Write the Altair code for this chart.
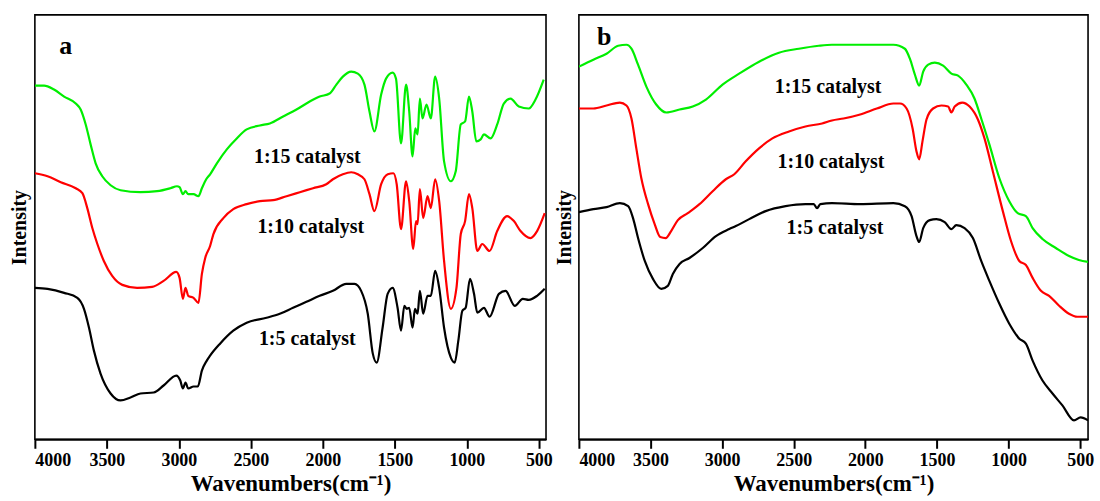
import altair as alt
import pandas as pd

# ---------------- Panel a ----------------
a_black_w = [4000,3912,3797,3705,3659,3624,3590,3544,3474,3405,3336,3267,3175,3106,3018,2990,2972,2954,2935,2898,
             2868,2840,2806,2783,2714,2622,2529,2391,2299,2207,2114,2022,1930,1837,1780,1734,1688,1653,1626,1585,
             1550,1515,1481,1457,1434,1418,1400,1377,1360,1342,1326,1303,1273,1250,1220,1192,1158,1111,1084,1059,
             1031,1008,978,950,927,881,842,777,731,667,611,570,512,459]
a_black_i = [152,151,147,142,131,112,89,66,46,39,42,46,47,54,64,59,51,57,51,53,
             53,69,79,84,96,109,117,122,126,132,138,144,149,156,156,149,126,86,77,112,
             146,152,132,109,134,131,132,112,131,126,149,126,144,144,169,152,112,82,77,99,
             129,132,161,146,127,132,123,146,149,134,141,140,144,151]

a_red_w = [4000,3912,3820,3716,3670,3636,3601,3566,3521,3463,3393,3290,3186,3106,3018,2995,2972,2954,2935,2898,
           2864,2840,2817,2783,2760,2691,2622,2529,2437,2345,2252,2160,2068,1976,1930,1861,1803,1757,1711,1676,
           1642,1595,1549,1510,1487,1457,1422,1400,1372,1353,1342,1326,1303,1273,1250,1220,1192,1158,1111,1072,
           1042,1012,985,962,927,893,842,789,720,673,627,558,512,459]
a_red_i = [267,264,258,252,247,232,212,196,179,164,155,152,153,159,168,162,141,152,144,142,
           137,166,182,194,206,222,231,236,239,240,244,248,252,256,261,266,268,266,261,246,
           229,256,266,267,256,211,259,239,191,219,216,251,222,244,232,261,239,179,131,152,
           206,219,246,232,189,196,189,209,224,219,209,202,209,227]

a_green_w = [4000,3936,3867,3797,3716,3682,3647,3613,3578,3532,3474,3405,3267,3151,3059,3013,2995,2972,2954,2935,
             2898,2864,2840,2810,2783,2736,2667,2598,2529,2437,2368,2276,2183,2091,2022,1953,1906,1861,1803,1757,
             1711,1676,1642,1595,1561,1515,1492,1457,1422,1400,1377,1358,1342,1326,1308,1280,1250,1220,1192,1158,
             1111,1077,1042,1012,985,962,934,904,881,835,789,743,696,639,570,523,466]
a_green_i = [355,355,351,344,337,331,316,296,277,264,255,250,248,249,252,254,253,246,249,246,
             246,244,252,261,266,277,291,302,311,315,317,324,331,339,344,347,356,364,369,367,
             356,329,309,346,362,368,362,297,356,329,284,312,306,342,322,336,322,364,342,279,
             259,269,316,319,344,329,299,301,306,302,316,337,342,334,332,341,361]

# ---------------- Panel b ----------------
b_black_w = [4000,3899,3807,3714,3656,3622,3587,3540,3483,3425,3379,3344,3297,3228,3135,3043,2950,2904,2811,2696,
             2557,2418,2360,2337,2314,2233,2036,1804,1724,1677,1643,1624,1596,1550,1504,1446,1399,1365,1307,1249,
             1191,1134,1064,995,925,879,832,763,693,624,543,497,445]
b_black_i = [228,231,233,237,234,222,202,179,161,151,154,166,176,182,192,204,211,214,221,229,
             234,236,236,232,236,237,236,237,234,224,204,198,212,220,221,218,211,215,212,202,
             179,159,136,116,101,96,79,59,46,34,19,22,19]

b_red_w = [4000,3899,3807,3714,3668,3633,3599,3564,3517,3471,3432,3394,3356,3309,3240,3158,3066,2974,2915,2835,
           2742,2649,2533,2418,2302,2233,2152,2036,1920,1804,1758,1712,1670,1643,1624,1601,1573,1527,1469,1422,
           1399,1376,1323,1272,1214,1168,1110,1040,983,925,879,832,774,717,647,578,520,445]
b_red_i = [332,332,335,338,335,322,292,262,236,216,203,202,209,220,227,236,249,261,266,279,
           292,302,309,314,317,320,322,326,332,337,337,332,312,289,281,299,321,332,335,334,
           328,334,338,334,321,302,269,229,199,179,175,162,149,144,134,126,123,123]

b_green_w = [4000,3899,3807,3726,3668,3633,3587,3529,3460,3390,3297,3205,3113,2997,2881,2742,2603,2464,2325,2233,
             2036,1804,1724,1689,1654,1624,1596,1561,1515,1457,1399,1353,1295,1238,1191,1134,1064,995,936,879,
             832,763,670,578,509,445]
b_green_i = [374,381,387,395,396,392,376,354,336,328,331,334,341,356,367,379,388,392,395,396,
             396,396,392,382,366,355,369,376,378,375,367,365,356,342,322,296,262,239,227,224,
             212,201,192,184,180,178]

series_names = ["1:5 catalyst", "1:10 catalyst", "1:15 catalyst"]
series_colors = ["#000000", "#ff0000", "#00ee00"]

# label annotations (wavenumber, intensity)
a_label_w = [2108, 2084, 2108]
a_label_i = [95, 207, 277]
b_label_w = [2212, 2240, 2260]
b_label_i = [206, 272, 348]
letters = ["a", "b"]
letter_w = [3786, 3823]
letter_i = [387, 396]

FONT = "Liberation Serif"


def make_df(ws, is_):
    frames = []
    for name, w, i in zip(series_names, ws, is_):
        frames.append(pd.DataFrame({"w": w, "i": i, "s": name}))
    return pd.concat(frames, ignore_index=True)


def panel(df, lab_w, lab_i, letter, lw, li, xright, width, tpad):
    x = alt.X(
        "w:Q",
        scale=alt.Scale(domain=[4000, xright], nice=False, zero=False),
        axis=alt.Axis(
            values=list(range(4000, 499, -250)),
            format="d",
            labelExpr="datum.value % 500 === 0 ? datum.label : ''",
            tickSize={"condition": {"test": "datum.value % 500 === 0", "value": 9}, "value": 5},
            tickWidth=2,
            tickColor="#000000",
            domainColor="#000000",
            domainWidth=2,
            labelFont=FONT,
            labelFontWeight="bold",
            labelFontSize=18,
            labelColor="#000000",
            labelPadding=3,
            labelOverlap=False,
            title="Wavenumbers(cm\u207b\u00b9)",
            titleFont=FONT,
            titleFontWeight="bold",
            titleFontSize=23,
            titleColor="#000000",
            titlePadding=3,
            grid=False,
        ),
    )
    y = alt.Y(
        "i:Q",
        scale=alt.Scale(domain=[0, 426], nice=False, zero=False),
        axis=alt.Axis(
            labels=False, ticks=False, domain=False, grid=False,
            title="Intensity", titleFont=FONT, titleFontWeight="bold",
            titleFontSize=20, titleColor="#000000", titlePadding=tpad,
        ),
    )
    lines = alt.Chart(df).mark_line(strokeWidth=2.2, clip=True, interpolate="monotone").encode(
        x=x, y=y,
        color=alt.Color("s:N", scale=alt.Scale(domain=series_names, range=series_colors), legend=None),
        detail="s:N",
    )
    lab_df = pd.DataFrame({"w": lab_w, "i": lab_i, "t": series_names})
    labels = alt.Chart(lab_df).mark_text(
        font=FONT, fontWeight="bold", fontSize=20, color="#000000",
        align="center", baseline="alphabetic",
    ).encode(x="w:Q", y="i:Q", text="t:N")
    let_df = pd.DataFrame({"w": [lw], "i": [li], "t": [letter]})
    let = alt.Chart(let_df).mark_text(
        font=FONT, fontWeight="bold", fontSize=26, color="#000000",
        align="center", baseline="alphabetic",
    ).encode(x="w:Q", y="i:Q", text="t:N")
    return alt.layer(lines, labels, let).properties(width=width, height=426)


df_a = make_df([a_black_w, a_red_w, a_green_w], [a_black_i, a_red_i, a_green_i])
df_b = make_df([b_black_w, b_red_w, b_green_w], [b_black_i, b_red_i, b_green_i])

pa = panel(df_a, a_label_w, a_label_i, letters[0], letter_w[0], letter_i[0], 450, 513, 5)
pb = panel(df_b, b_label_w, b_label_i, letters[1], letter_w[1], letter_i[1], 445, 511, 4)

chart = alt.hconcat(pa, pb, spacing=33, bounds="flush").properties(
    padding={"left": 9, "top": 13, "right": 5, "bottom": 0},
    background="white",
).configure_view(stroke="#000000", strokeWidth=1.6)

chart.save("out.html", embed_options={"renderer": "svg", "actions": False})
